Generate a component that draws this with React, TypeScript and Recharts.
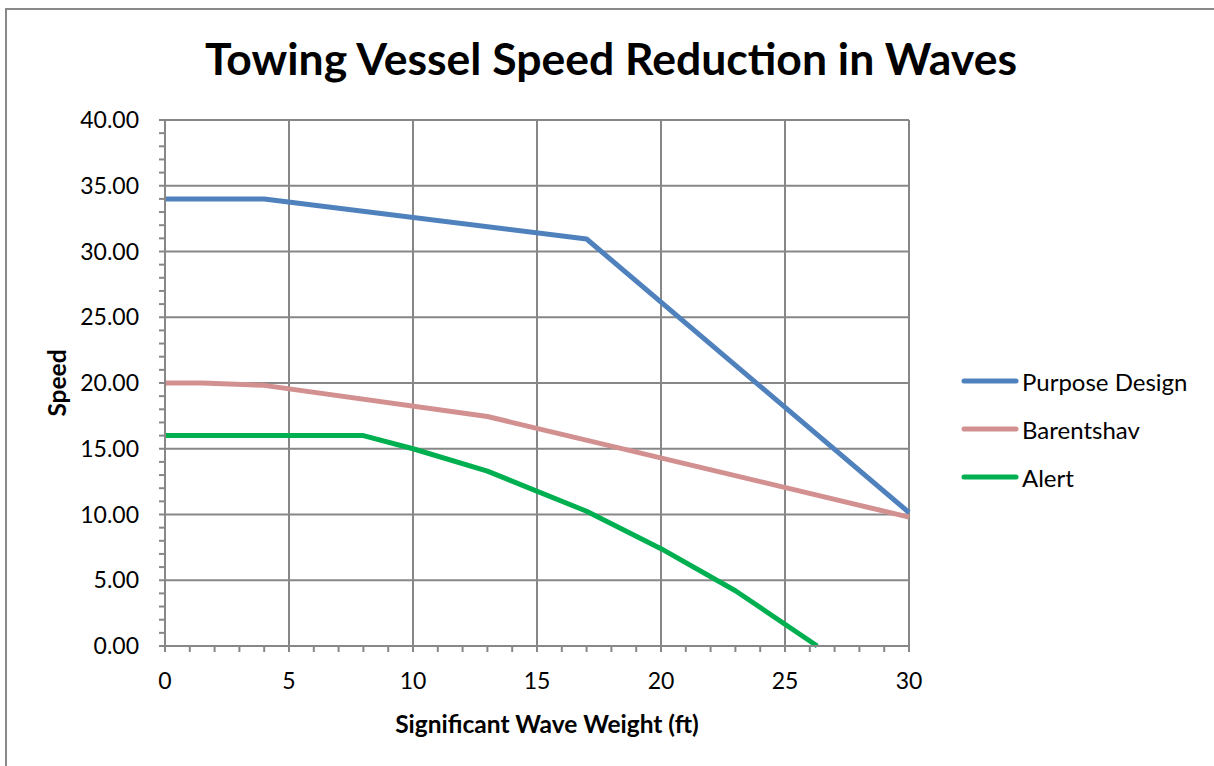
import { LineChart, Line, XAxis, YAxis, CartesianGrid } from 'recharts';

// speed vs significant wave height
const purposeDesignWave = [0, 4, 17, 30];
const purposeDesignSpeed = [34, 34, 30.95, 10.15];

const barentshavWave = [0, 1.5, 4, 13, 30];
const barentshavSpeed = [20, 20, 19.82, 17.45, 9.8];

const alertWave = [0, 8, 10, 13, 17, 20, 23, 26.3];
const alertSpeed = [16, 16, 15, 13.3, 10.25, 7.4, 4.2, 0];

const xMajorTicks = [0, 5, 10, 15, 20, 25, 30];
const yMajorTicks = [0, 5, 10, 15, 20, 25, 30, 35, 40];
const xMinorTicks = Array.from({ length: 31 }, (_, i) => i);
const yMinorTicks = Array.from({ length: 41 }, (_, i) => i);

const FONT = 'Lato, "Liberation Sans", sans-serif';
const GRAY = '#878787';

const toPoints = (wave: number[], speed: number[]) =>
  wave.map((w, i) => ({ wave: w, speed: speed[i] }));

const series = [
  { name: 'Purpose Design', color: '#4F81BD', data: toPoints(purposeDesignWave, purposeDesignSpeed) },
  { name: 'Barentshav', color: '#D39090', data: toPoints(barentshavWave, barentshavSpeed) },
  { name: 'Alert', color: '#00B050', data: toPoints(alertWave, alertSpeed) },
];

const XTick = (props: any) => {
  const { x, y, payload } = props;
  if (!xMajorTicks.includes(payload.value)) return <g />;
  return (
    <text x={x} y={y} dy="0.71em" textAnchor="middle" fontSize={23} fontFamily={FONT} fill="#000">
      {payload.value}
    </text>
  );
};

const YTick = (props: any) => {
  const { x, y, payload } = props;
  if (!yMajorTicks.includes(payload.value)) return <g />;
  return (
    <text x={x} y={y} dy="0.355em" textAnchor="end" fontSize={23} fontFamily={FONT} fill="#000">
      {payload.value.toFixed(2)}
    </text>
  );
};

export default function App() {
  return (
    <div style={{ position: 'absolute', left: 0, top: 0, width: 1214, height: 766, overflow: 'hidden', background: '#fff', fontFamily: FONT }}>
      <div style={{ position: 'absolute', left: 5, top: 8, width: 1400, height: 1000, border: '2px solid #898989' }} />
      <div
        style={{
          position: 'absolute', left: 0, top: 36, width: 1222, textAlign: 'center',
          fontSize: 44.5, fontWeight: 700, lineHeight: 1, color: '#000',
        }}
      >
        Towing Vessel Speed Reduction in Waves
      </div>

      <div style={{ position: 'absolute', left: 0, top: 0 }}>
        <LineChart width={1214} height={766} margin={{ top: 120, right: 305, left: 20, bottom: 20 }}>
          <CartesianGrid
            stroke={GRAY}
            strokeWidth={2}
            verticalValues={xMajorTicks}
            horizontalValues={yMajorTicks}
          />
          <XAxis
            type="number"
            dataKey="wave"
            domain={[0, 30]}
            ticks={xMinorTicks}
            interval={0}
            height={100}
            tickSize={6}
            tickMargin={21}
            tick={XTick}
            axisLine={{ stroke: GRAY, strokeWidth: 2 }}
            tickLine={{ stroke: GRAY, strokeWidth: 2 }}
            label={{
              value: 'Significant Wave Weight (ft)',
              position: 'insideBottom',
              offset: 13,
              dx: 10,
              style: { fontWeight: 700, fontSize: 24.5, fill: '#000', fontFamily: FONT },
            }}
          />
          <YAxis
            type="number"
            domain={[0, 40]}
            ticks={yMinorTicks}
            interval={0}
            width={145}
            tickSize={6}
            tickMargin={20}
            tick={YTick}
            axisLine={{ stroke: GRAY, strokeWidth: 2 }}
            tickLine={{ stroke: GRAY, strokeWidth: 2 }}
            label={{
              value: 'Speed',
              position: 'insideLeft',
              angle: -90,
              offset: 37,
              style: { fontWeight: 700, fontSize: 24.5, fill: '#000', fontFamily: FONT, textAnchor: 'middle' },
            }}
          />
          {series.map((s) => (
            <Line
              key={s.name}
              name={s.name}
              data={s.data}
              dataKey="speed"
              type="linear"
              stroke={s.color}
              strokeWidth={5}
              strokeLinejoin="round"
              dot={false}
              isAnimationActive={false}
            />
          ))}
        </LineChart>
      </div>

      <div style={{ position: 'absolute', left: 960, top: 357 }}>
        {series.map((s) => (
          <div key={s.name} style={{ height: 48, display: 'flex', alignItems: 'center' }}>
            <svg width={60} height={10}>
              <line x1={4} y1={5} x2={56} y2={5} stroke={s.color} strokeWidth={5} strokeLinecap="round" />
            </svg>
            <span style={{ fontSize: 24, color: '#000', marginLeft: 2 }}>{s.name}</span>
          </div>
        ))}
      </div>
    </div>
  );
}
